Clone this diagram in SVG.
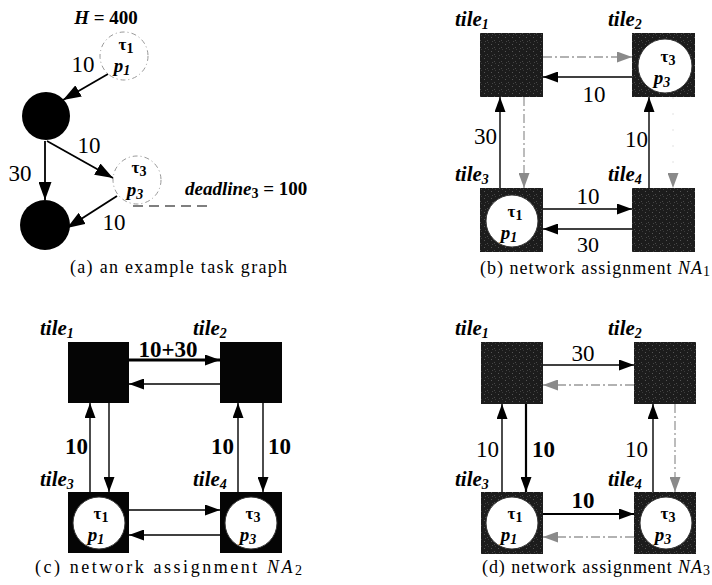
<svg xmlns="http://www.w3.org/2000/svg" width="712" height="585" viewBox="0 0 712 585" font-family="'Liberation Serif', 'Times New Roman', serif">
<style>
  text { font-family: "Liberation Serif", "Times New Roman", serif; fill: #000; }
  .num { font-size: 23px; }
  .numb { font-size: 23px; font-weight: bold; }
  .tile { font-size: 21px; font-weight: bold; font-style: italic; }
  .sub { font-size: 14px; }
  .tau { font-size: 17px; font-weight: bold; }
  .pp { font-size: 19px; font-weight: bold; font-style: italic; }
  .cap { font-size: 18px; }
  .ln { stroke: #000; stroke-width: 1.4; fill: none; marker-end: url(#ah); }
  .thk { stroke-width: 2.2; }
  .gr { stroke: #999; stroke-width: 1.3; fill: none; stroke-dasharray: 9 3 2 3; marker-end: url(#ahg); }
  .grf { stroke: #e2e2e2; stroke-width: 1; fill: none; stroke-dasharray: 2 14; marker-end: url(#ahg); }
  .la { stroke: #000; stroke-width: 1.8; fill: none; marker-end: url(#ahL); }
  .sq { fill: url(#spk); }
  .sqc { fill: #050505; }
  .cw { fill: #fff; stroke: #333; stroke-width: 1; }
  .dc { fill: none; stroke: #999; stroke-width: 1; stroke-dasharray: 5 3 1 3; }
</style>
<defs>
  <marker id="ah" markerUnits="userSpaceOnUse" markerWidth="15" markerHeight="11" refX="15" refY="5.5" orient="auto">
    <path d="M0,0 L15,5.5 L0,11 z" fill="#000"/>
  </marker>
  <marker id="ahL" markerUnits="userSpaceOnUse" markerWidth="18" markerHeight="13" refX="18" refY="6.5" orient="auto">
    <path d="M0,0 L18,6.5 L0,13 z" fill="#000"/>
  </marker>
  <marker id="ahg" markerUnits="userSpaceOnUse" markerWidth="15" markerHeight="11" refX="15" refY="5.5" orient="auto">
    <path d="M0,0 L15,5.5 L0,11 z" fill="#8a8a8a"/>
  </marker>
  <pattern id="spk" width="7" height="7" patternUnits="userSpaceOnUse">
    <rect width="7" height="7" fill="#1c1c1c"/>
    <rect x="1" y="2" width="1" height="1" fill="#555"/>
    <rect x="4" y="5" width="1" height="1" fill="#4a4a4a"/>
    <rect x="5" y="0" width="1" height="1" fill="#3a3a3a"/>
    <rect x="2" y="6" width="1" height="1" fill="#444"/>
  </pattern>
</defs>

<!-- ===== Panel (a) ===== -->
<g id="a-nodes">
  <g id="a-H"><text x="106" y="24" text-anchor="middle" style="font-size:19px;font-weight:bold"><tspan font-style="italic">H</tspan> = 400</text></g>
  <g id="a-t1">
    <circle class="dc" cx="124" cy="56" r="24"/>
    <text x="126" y="50" text-anchor="middle" class="tau">τ<tspan class="sub" dy="3">1</tspan></text>
    <text x="122" y="72" text-anchor="middle" class="pp">p<tspan class="sub" dy="3">1</tspan></text>
  </g>
  <g id="a-c1"><circle cx="46" cy="116" r="24" fill="#000"/></g>
  <g id="a-t3">
    <circle class="dc" cx="137" cy="180" r="24"/>
    <text x="139" y="173" text-anchor="middle" class="tau">τ<tspan class="sub" dy="3">3</tspan></text>
    <text x="135" y="196" text-anchor="middle" class="pp">p<tspan class="sub" dy="3">3</tspan></text>
  </g>
  <g id="a-c2"><circle cx="45" cy="225" r="25" fill="#000"/></g>
  <g id="a-deadline"><text x="185" y="195" style="font-size:19px;font-weight:bold"><tspan font-style="italic">deadline</tspan><tspan class="sub" dy="3">3</tspan><tspan dy="-3"> = 100</tspan></text></g>
</g>
<g id="a-edges">
  <line class="la" x1="108" y1="74" x2="63" y2="100"/>
  <line class="la" x1="47" y1="141" x2="113" y2="178"/>
  <line class="la" x1="45" y1="141" x2="45" y2="200"/>
  <line class="la" x1="117" y1="196" x2="67" y2="228"/>
  <line x1="133" y1="206" x2="207" y2="206" stroke="#000" stroke-width="1.2" stroke-dasharray="10 6"/>
  <text x="83" y="72" text-anchor="middle" class="num">10</text>
  <text x="89" y="153" text-anchor="middle" class="num">10</text>
  <text x="20" y="181" text-anchor="middle" class="num">30</text>
  <text x="114" y="230" text-anchor="middle" class="num">10</text>
</g>
<text x="70" y="273" class="cap" textLength="217" lengthAdjust="spacing">(a) an example task graph</text>

<!-- ===== Panel (b) ===== -->
<g id="b-tile1"><rect class="sq" x="480" y="33" width="63" height="64"/><text x="455" y="26" class="tile">tile<tspan class="sub" dy="3">1</tspan></text></g>
<g id="b-tile2"><rect class="sq" x="632" y="33" width="63" height="64"/><text x="608" y="26" class="tile">tile<tspan class="sub" dy="3">2</tspan></text>
  <circle class="cw" cx="665" cy="66" r="27"/>
  <text x="668" y="62" text-anchor="middle" class="tau">τ<tspan class="sub" dy="3">3</tspan></text>
  <text x="662" y="84" text-anchor="middle" class="pp">p<tspan class="sub" dy="3">3</tspan></text>
</g>
<g id="b-tile3"><rect class="sq" x="480" y="188" width="63" height="64"/><text x="455" y="181" class="tile">tile<tspan class="sub" dy="3">3</tspan></text>
  <circle class="cw" cx="512" cy="221" r="26"/>
  <text x="515" y="217" text-anchor="middle" class="tau">τ<tspan class="sub" dy="3">1</tspan></text>
  <text x="509" y="239" text-anchor="middle" class="pp">p<tspan class="sub" dy="3">1</tspan></text>
</g>
<g id="b-tile4"><rect class="sq" x="632" y="188" width="63" height="64"/><text x="608" y="181" class="tile">tile<tspan class="sub" dy="3">4</tspan></text></g>
<g id="b-edges">
  <line class="gr" x1="543" y1="57" x2="632" y2="57"/>
  <line class="ln" x1="632" y1="77" x2="543" y2="77"/>
  <line class="ln" x1="500" y1="188" x2="500" y2="97"/>
  <line class="gr" x1="524" y1="97" x2="524" y2="188"/>
  <line class="ln" x1="649" y1="188" x2="649" y2="97"/>
  <line class="grf" x1="673" y1="97" x2="673" y2="188"/>
  <line class="ln" x1="543" y1="209" x2="632" y2="209"/>
  <line class="ln" x1="632" y1="229" x2="543" y2="229"/>
  <text x="594" y="102" text-anchor="middle" class="num">10</text>
  <text x="497" y="144" text-anchor="end" class="num">30</text>
  <text x="648" y="147" text-anchor="end" class="num">10</text>
  <text x="588" y="204" text-anchor="middle" class="num">10</text>
  <text x="588" y="252" text-anchor="middle" class="num" style="font-size:22px">30</text>
</g>
<text x="480" y="274" class="cap" textLength="230" lengthAdjust="spacing">(b) network assignment <tspan font-style="italic">NA</tspan><tspan class="sub" dy="2">1</tspan></text>

<!-- ===== Panel (c) ===== -->
<g id="c-tile1"><rect class="sqc" x="68" y="342" width="61" height="61"/><text x="40" y="335" class="tile">tile<tspan class="sub" dy="3">1</tspan></text></g>
<g id="c-tile2"><rect class="sqc" x="220" y="342" width="62" height="61"/><text x="193" y="335" class="tile">tile<tspan class="sub" dy="3">2</tspan></text></g>
<g id="c-tile3"><rect class="sqc" x="68" y="492" width="61" height="61"/><text x="40" y="486" class="tile">tile<tspan class="sub" dy="3">3</tspan></text>
  <circle class="cw" cx="99" cy="523" r="26"/>
  <text x="101" y="519" text-anchor="middle" class="tau">τ<tspan class="sub" dy="3">1</tspan></text>
  <text x="96" y="541" text-anchor="middle" class="pp">p<tspan class="sub" dy="3">1</tspan></text>
</g>
<g id="c-tile4"><rect class="sqc" x="220" y="492" width="62" height="61"/><text x="193" y="486" class="tile">tile<tspan class="sub" dy="3">4</tspan></text>
  <circle class="cw" cx="251" cy="523" r="26"/>
  <text x="253" y="519" text-anchor="middle" class="tau">τ<tspan class="sub" dy="3">3</tspan></text>
  <text x="248" y="541" text-anchor="middle" class="pp">p<tspan class="sub" dy="3">3</tspan></text>
</g>
<g id="c-edges">
  <line class="ln" x1="129" y1="360" x2="220" y2="360" style="stroke-width:3"/>
  <line class="ln" x1="220" y1="384" x2="129" y2="384"/>
  <line class="ln" x1="90" y1="492" x2="90" y2="403"/>
  <line class="ln" x1="109" y1="403" x2="109" y2="492"/>
  <line class="ln" x1="238" y1="492" x2="238" y2="403"/>
  <line class="ln" x1="263" y1="403" x2="263" y2="492"/>
  <line class="ln" x1="129" y1="510" x2="220" y2="510"/>
  <line class="ln" x1="220" y1="535" x2="129" y2="535"/>
  <text x="168" y="357" text-anchor="middle" class="numb">10+30</text>
  <text x="88" y="454" text-anchor="end" class="numb">10</text>
  <text x="234" y="454" text-anchor="end" class="numb">10</text>
  <text x="268" y="454" class="numb">10</text>
</g>
<text x="35" y="573" class="cap" textLength="267" lengthAdjust="spacing">(c) network assignment <tspan font-style="italic">NA</tspan><tspan class="sub" dy="2">2</tspan></text>

<!-- ===== Panel (d) ===== -->
<g id="d-tile1"><rect class="sq" x="481" y="342" width="62" height="62"/><text x="455" y="335" class="tile">tile<tspan class="sub" dy="3">1</tspan></text></g>
<g id="d-tile2"><rect class="sq" x="634" y="342" width="62" height="62"/><text x="608" y="335" class="tile">tile<tspan class="sub" dy="3">2</tspan></text></g>
<g id="d-tile3"><rect class="sq" x="481" y="492" width="62" height="62"/><text x="455" y="486" class="tile">tile<tspan class="sub" dy="3">3</tspan></text>
  <circle class="cw" cx="512" cy="523" r="26"/>
  <text x="515" y="519" text-anchor="middle" class="tau">τ<tspan class="sub" dy="3">1</tspan></text>
  <text x="509" y="541" text-anchor="middle" class="pp">p<tspan class="sub" dy="3">1</tspan></text>
</g>
<g id="d-tile4"><rect class="sq" x="634" y="492" width="62" height="62"/><text x="608" y="486" class="tile">tile<tspan class="sub" dy="3">4</tspan></text>
  <circle class="cw" cx="666" cy="523" r="26"/>
  <text x="668" y="519" text-anchor="middle" class="tau">τ<tspan class="sub" dy="3">3</tspan></text>
  <text x="663" y="541" text-anchor="middle" class="pp">p<tspan class="sub" dy="3">3</tspan></text>
</g>
<g id="d-edges">
  <line class="ln" x1="543" y1="365" x2="634" y2="365"/>
  <line class="gr" x1="634" y1="385" x2="543" y2="385"/>
  <line class="ln" x1="502" y1="492" x2="502" y2="404"/>
  <line class="ln thk" x1="526" y1="404" x2="526" y2="492"/>
  <line class="ln" x1="653" y1="492" x2="653" y2="404"/>
  <line class="gr" x1="675" y1="404" x2="675" y2="492"/>
  <line class="ln thk" x1="543" y1="514" x2="634" y2="514"/>
  <line class="gr" x1="634" y1="537" x2="543" y2="537"/>
  <text x="583" y="361" text-anchor="middle" class="num">30</text>
  <text x="499" y="457" text-anchor="end" class="num">10</text>
  <text x="532" y="457" class="numb">10</text>
  <text x="648" y="457" text-anchor="end" class="num">10</text>
  <text x="583" y="508" text-anchor="middle" class="numb">10</text>
</g>
<text x="482" y="573" class="cap" textLength="228" lengthAdjust="spacing">(d) network assignment <tspan font-style="italic">NA</tspan><tspan class="sub" dy="2">3</tspan></text>
</svg>
